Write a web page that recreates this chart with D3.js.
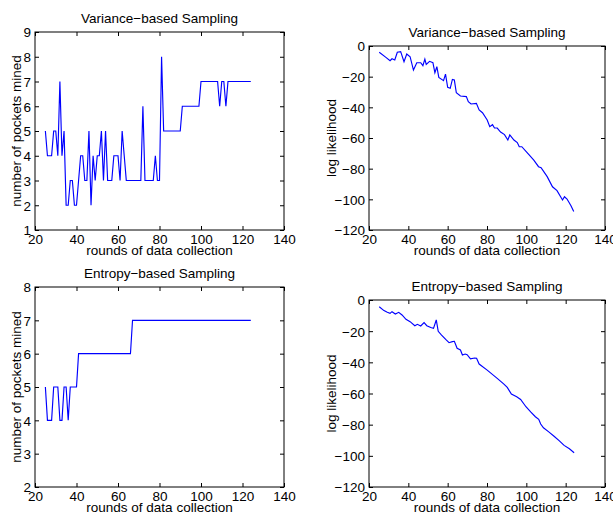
<!DOCTYPE html>
<html>
<head>
    <title>Sampling</title>
    <script src="https://cdn.jsdelivr.net/npm/d3@7"></script>
    <style>
        body { margin: 0; background: #fff; }
        text { font-family: "Liberation Sans", Arial, Helvetica, sans-serif; }
    </style>
</head>
<body>
    <svg width="613" height="512" id="mainsvg"></svg>
    <script>
        // pockets mined, one value per round (25..124)
        const varRounds = d3.range(25, 125);
        const varPockets = [5,4,4,4,5,5,4,7,4,5, 2,2,3,3,2,2,3,4,4,3, 3,5,2,4,3,4,4,5,3,5,
            3,3,3,4,4,4,3,5,4,3, 3,3,3,3,3,3,3,6,3,3, 3,3,3,4,3,3,8,5,5,5, 5,5,5,5,5,5,6,6,6,6,
            6,6,6,6,6,7,7,7,7,7, 7,7,7,7,6,7,7,6,7,7, 7,7,7,7,7,7,7,7,7,7];
        const entRounds = d3.range(25, 125);
        const entPockets = [5,4,4,4,5,5,5,4,4,5, 5,4,5,5,5,5,6,6,6,6, 6,6,6,6,6,6,6,6,6,6,
            6,6,6,6,6,6,6,6,6,6, 6,6,7,7,7,7,7,7,7,7, 7,7,7,7,7,7,7,7,7,7, 7,7,7,7,7,7,7,7,7,7,
            7,7,7,7,7,7,7,7,7,7, 7,7,7,7,7,7,7,7,7,7, 7,7,7,7,7,7,7,7,7,7];

        // log likelihood
        const varLLRounds = [25.2,28.6,30.7,31.7,33.1,34.4,36.1,37.8,39.2,40.9,42.6,44.3,46.3,47.4,48.4,49.1,50.8,52.5,53.5,54.5,
            55.5,57.9,58.9,60,61.3,62.4,63.4,64.4,66.5,69.5,70.5,71.9,74.6,76,77.7,80.1,81.4,82.8,83.8,85.2,
            86.9,88.9,90.6,91.6,93.7,95.4,96.4,97.7,100.4,103.8,106.2,107.5,110.6,113.3,115.6,118.4,119.4,120.7,122.7,124.1];
        const varLL = [-4.1,-7.4,-9.6,-8.3,-9.1,-4.1,-3.7,-10.2,-5.2,-7,-15.7,-10.9,-10.9,-12.8,-8.5,-12,-10,-10.9,-17.4,-13.5,
            -20.5,-22.6,-18.3,-27,-27.6,-21.8,-22.2,-30.5,-32.6,-33,-36.3,-37.8,-37.4,-41.7,-43.5,-48.3,-52.6,-51.3,-53.5,-53.5,
            -56.1,-57.8,-61.3,-58,-61.3,-63,-65.7,-65.7,-69.6,-74.4,-78.7,-79.4,-85.2,-91.8,-94.3,-100.4,-98.3,-99.8,-104.2,-108];
        const entLLRounds = [25.2,27.6,29.3,30.7,31.7,33.4,35.1,36.8,38.8,40.9,43.3,44.6,46.3,48,49.4,51.4,52.8,54.2,55.2,56.9,
            59,60.7,62.4,63.4,64.8,66.5,67.5,68.9,69.9,71.6,73.7,74.7,76,80.1,85.2,88.6,90.3,92.4,95.1,97.1,
            99.8,102.2,104.6,106.3,107.3,108.7,111.4,114.1,116.8,119.2,121.9,124.3];
        const entLL = [-4.3,-6.8,-7.9,-8.6,-7.5,-9,-7.9,-9.6,-12.4,-13.9,-16.5,-15.6,-16.7,-14.5,-16.5,-17.7,-18.2,-12.8,-20.1,-22.5,
            -25.3,-27.4,-26.7,-26.5,-31,-32.1,-35.3,-34.7,-35.1,-37.7,-37.2,-37.4,-41.1,-45,-50.3,-54,-56.1,-60.4,-62.1,-63.8,
            -68.5,-71.8,-74.9,-76.6,-79.6,-82,-84.6,-87.4,-90.4,-93.3,-95.5,-98];

        const xTicks = [20, 40, 60, 80, 100, 120, 140];
        const pocketTicksTop = [1, 2, 3, 4, 5, 6, 7, 8, 9];
        const pocketTicksBottom = [2, 3, 4, 5, 6, 7, 8];
        const llTicks = [0, -20, -40, -60, -80, -100, -120];

        const svg = d3.select('svg');
        const fs = 13.5;
        const fmt = d => d < 0 ? '\u2212' + Math.abs(d) : String(d);

        const panel = (p) => {
            const x = d3.scaleLinear().domain([20, 140]).range([p.left, p.right]);
            const y = d3.scaleLinear().domain(p.yDomain).range([p.bottom, p.top]);
            const g = svg.append('g');
            const tk = 4;

            const ax = (axis, tx, ty, labels) => {
                const a = g.append('g').attr('transform', `translate(${tx},${ty})`).call(axis);
                a.select('.domain').remove();
                a.selectAll('line').attr('stroke', '#000');
                a.selectAll('text').attr('font-size', fs).attr('fill', '#000');
                if (!labels) a.selectAll('text').remove();
                return a;
            };
            const xb = ax(d3.axisBottom(x).tickValues(xTicks).tickSize(-tk).tickPadding(3).tickFormat(fmt), 0, p.bottom, true);
            xb.selectAll('text').attr('dy', null).attr('y', 14);
            ax(d3.axisTop(x).tickValues(xTicks).tickSize(-tk), 0, p.top, false);
            const yl = ax(d3.axisLeft(y).tickValues(p.yTicks).tickSize(-tk).tickPadding(4).tickFormat(fmt), p.left, 0, true);
            yl.selectAll('text').attr('dy', '0.36em');
            ax(d3.axisRight(y).tickValues(p.yTicks).tickSize(-tk), p.right, 0, false);

            g.append('rect').attr('x', p.left).attr('y', p.top)
                .attr('width', p.right - p.left).attr('height', p.bottom - p.top)
                .attr('fill', 'none').attr('stroke', '#000').attr('stroke-width', 1);

            const line = d3.line().x((d, i) => x(p.xs[i])).y(d => y(d));
            g.append('path').datum(p.ys).attr('d', line)
                .attr('fill', 'none').attr('stroke', '#0000ff').attr('stroke-width', 1.15);

            g.append('text').attr('x', (p.left + p.right) / 2).attr('y', p.top - 9)
                .attr('text-anchor', 'middle').attr('font-size', fs).text(p.title);
            g.append('text').attr('x', (p.left + p.right) / 2).attr('y', p.bottom + 25)
                .attr('text-anchor', 'middle').attr('font-size', fs).text('rounds of data collection');
            g.append('text')
                .attr('transform', `translate(${p.yLabelX},${(p.top + p.bottom) / 2}) rotate(-90)`)
                .attr('text-anchor', 'middle').attr('font-size', fs).text(p.yLabel);
        };

        panel({ left: 35, right: 284, top: 32, bottom: 230, yDomain: [1, 9], yTicks: pocketTicksTop,
            xs: varRounds, ys: varPockets, title: 'Variance\u2212based Sampling',
            yLabel: 'number of pockets mined', yLabelX: 21 });
        panel({ left: 369, right: 605, top: 46, bottom: 230, yDomain: [-120, 0], yTicks: llTicks,
            xs: varLLRounds, ys: varLL, title: 'Variance\u2212based Sampling',
            yLabel: 'log likelihood', yLabelX: 336 });
        panel({ left: 35, right: 284, top: 287, bottom: 487, yDomain: [2, 8], yTicks: pocketTicksBottom,
            xs: entRounds, ys: entPockets, title: 'Entropy\u2212based Sampling',
            yLabel: 'number of pockets mined', yLabelX: 21 });
        panel({ left: 369, right: 605, top: 300, bottom: 487, yDomain: [-120, 0], yTicks: llTicks,
            xs: entLLRounds, ys: entLL, title: 'Entropy\u2212based Sampling',
            yLabel: 'log likelihood', yLabelX: 336 });
    </script>
</body>
</html>
